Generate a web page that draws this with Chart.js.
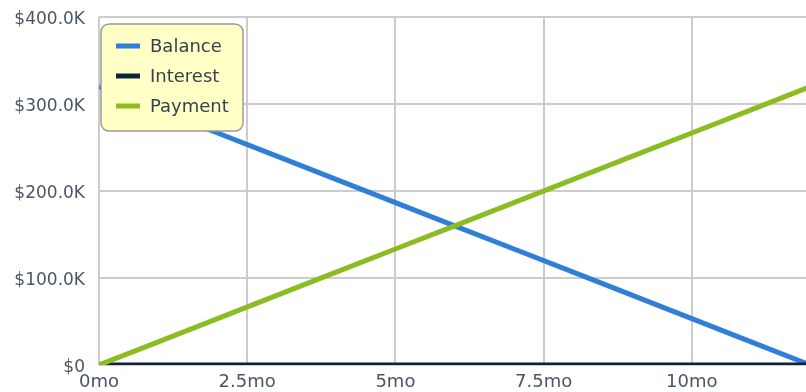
<!DOCTYPE html>
<html>
<head>
<meta charset="utf-8">
<script src="https://cdn.jsdelivr.net/npm/chart.js@4.4.0/dist/chart.umd.min.js"></script>
<style>
  html, body { margin: 0; padding: 0; background: #fff; }
  #wrap { width: 806px; height: 392px; overflow: hidden; position: relative; }
  canvas { display: block; }
</style>
</head>
<body>
<div id="wrap">
  <canvas id="loanChart" width="840" height="392"></canvas>
</div>
<script>
// ===== Datos =====
const months = [0, 1, 2, 3, 4, 5, 6, 7, 8, 9, 10, 11, 12];
const balance = [320000, 293333, 266667, 240000, 213333, 186667, 160000, 133333, 106667, 80000, 53333, 26667, 0];
const interest = [0, 0, 0, 0, 0, 0, 0, 0, 0, 0, 0, 0, 0];
const payment = [0, 26667, 53333, 80000, 106667, 133333, 160000, 186667, 213333, 240000, 266667, 293333, 320000];

const yTickValues = [0, 100000, 200000, 300000, 400000];
const yTickLabels = ["$0", "$100.0K", "$200.0K", "$300.0K", "$400.0K"];
const xTickValues = [0, 2.5, 5, 7.5, 10];
const xTickLabels = ["0mo", "2.5mo", "5mo", "7.5mo", "10mo"];

const FONT = "'DejaVu Sans', sans-serif";
const TICK_COLOR = "#4a5663";

function puntos(values) {
  return months.map((m, i) => ({ x: m, y: values[i] }));
}

// ===== Leyenda amarilla dentro del área =====
const boxLegend = {
  id: "boxLegend",
  afterDraw(chart) {
    const c = chart.ctx;
    const x = 101, y = 24, w = 142, h = 107, r = 8;
    c.save();
    c.beginPath();
    c.roundRect(x, y, w, h, r);
    c.fillStyle = "#ffffc6";
    c.fill();
    c.lineWidth = 1.5;
    c.strokeStyle = "#9a9a9a";
    c.stroke();

    c.font = "18px " + FONT;
    c.textBaseline = "middle";
    chart.data.datasets.forEach((ds, i) => {
      const ly = 46 + i * 30;
      c.beginPath();
      c.moveTo(116, ly);
      c.lineTo(140, ly);
      c.lineWidth = 5;
      c.strokeStyle = ds.borderColor;
      c.stroke();
      c.fillStyle = "#37424f";
      c.fillText(ds.label, 150, ly + 1);
    });
    c.restore();
  },
};

const ctx = document.getElementById("loanChart");

new Chart(ctx, {
  type: "line",
  data: {
    datasets: [
      {
        label: "Balance",
        data: puntos(balance),
        borderColor: "#2f7ed8",
        borderWidth: 5,
        pointRadius: 0,
        order: 2,
      },
      {
        label: "Interest",
        data: puntos(interest),
        borderColor: "#0d233a",
        borderWidth: 5,
        pointRadius: 0,
        order: 1,
      },
      {
        label: "Payment",
        data: puntos(payment),
        borderColor: "#8bbc21",
        borderWidth: 5,
        pointRadius: 0,
        order: 0,
      },
    ],
  },
  options: {
    responsive: false,
    animation: false,
    layout: { padding: { top: 17, left: 0, right: 0, bottom: 0 } },
    plugins: {
      legend: { display: false },
      tooltip: { enabled: false },
    },
    scales: {
      x: {
        type: "linear",
        min: 0,
        max: 12.5,
        afterFit: (scale) => {
          scale.height = 27;
          scale.paddingLeft = 0;
          scale.paddingRight = 0;
        },
        afterBuildTicks: (scale) => {
          scale.ticks = xTickValues.concat([12.5]).map((v) => ({ value: v }));
        },
        grid: { color: "#cccccc", lineWidth: 2, drawTicks: false },
        border: { display: false },
        ticks: {
          padding: 7,
          maxRotation: 0,
          autoSkip: false,
          color: TICK_COLOR,
          font: { family: FONT, size: 18 },
          callback: (v) => {
            const i = xTickValues.indexOf(v);
            return i >= 0 ? xTickLabels[i] : "";
          },
        },
      },
      y: {
        min: 0,
        max: 400000,
        afterFit: (scale) => {
          scale.width = 99;
          scale.paddingTop = 0;
          scale.paddingBottom = 0;
        },
        afterBuildTicks: (scale) => {
          scale.ticks = yTickValues.map((v) => ({ value: v }));
        },
        grid: { color: "#cccccc", lineWidth: 2, drawTicks: false },
        border: { display: false },
        ticks: {
          padding: 14,
          labelOffset: 3,
          color: TICK_COLOR,
          font: { family: FONT, size: 17 },
          callback: (v) => {
            const i = yTickValues.indexOf(v);
            return i >= 0 ? yTickLabels[i] : "";
          },
        },
      },
    },
  },
  plugins: [boxLegend],
});
</script>
</body>
</html>
